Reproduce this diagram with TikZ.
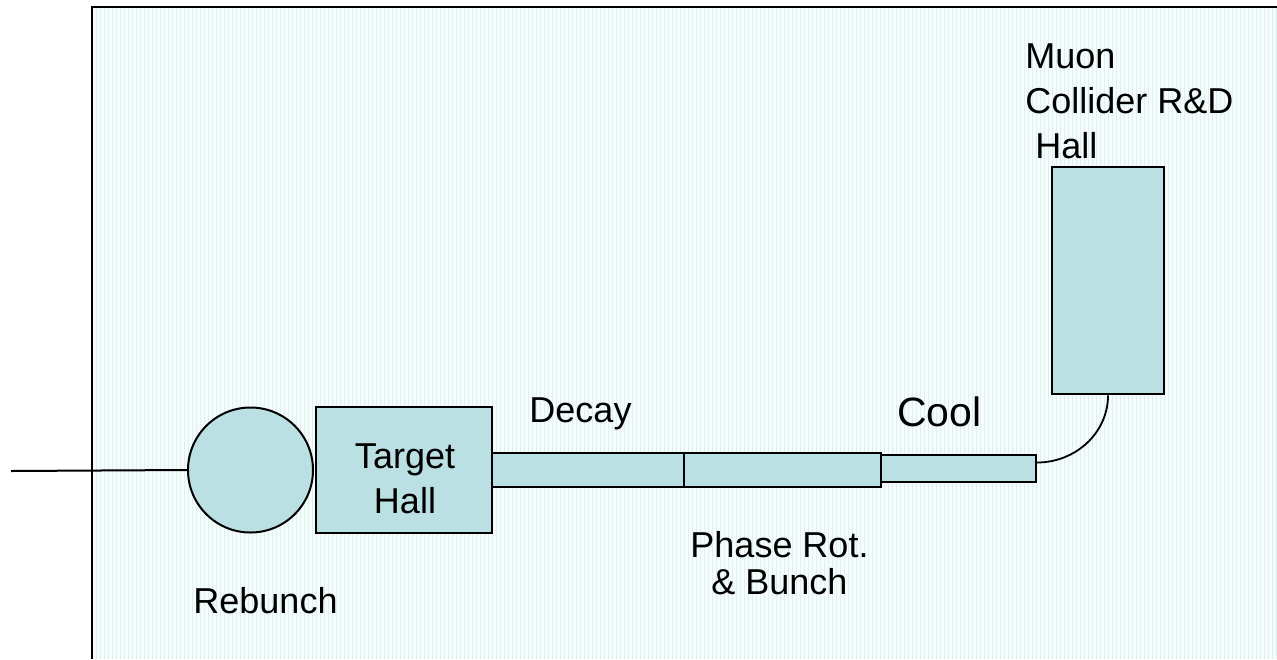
\documentclass[tikz,border=0pt]{standalone}
\usepackage{fontspec}
\setmainfont{Liberation Sans}
\definecolor{hallfill}{HTML}{BBE0E3}
\definecolor{paperbg}{HTML}{F6FCFC}
\definecolor{paperline}{HTML}{DDF0F2}
\tikzset{
  hall/.style={draw, line width=1.3pt, fill=hallfill, inner sep=0pt},
  tube/.style={hall, line width=1.1pt},
  lbl/.style={font=\fontsize{18}{22.5}\selectfont, inner sep=0pt, anchor=base},
}
\begin{document}
\begin{tikzpicture}[x=0.5pt, y=-0.5pt]
\useasboundingbox (0,0) rectangle (1277,659);

% paper
\fill[paperbg] (93,8) rectangle (1277,659);
\draw[paperline, line width=0.4pt, step=4] (93,8) grid (1277,659);
\draw[line width=1.2pt] (92,659) -- (92,7) -- (1277,7);

% line elements
\node[circle, draw, line width=1pt, fill=hallfill, minimum size=62.5pt, inner sep=0pt] (rebunch) at (250.5,470) {};
\node[hall, minimum width=88pt, minimum height=63pt] (target) at (404,470) {};
\node[tube, minimum width=96pt, minimum height=17pt] (decay) at (588,470) {};
\node[tube, minimum width=98.5pt, minimum height=17pt] (phase) at (782.5,470) {};
\node[tube, minimum width=77.5pt, minimum height=13.5pt] (cool) at (958.5,468.5) {};
\node[hall, minimum width=56pt, minimum height=113.5pt] (rdhall) at (1108,280.5) {};

% connections
\coordinate (in) at (11,471);
\draw[line width=1pt] (in) -- (rebunch.west);
\coordinate (coolend) at ([yshift=3pt]cool.east);
\draw[line width=0.9pt] (coolend) .. controls +(38,0) and +(0,38) .. (rdhall.south);

% labels
\node[lbl] (rebunchlbl) at (265.5,613) {Rebunch};
\node[lbl, align=center] (targetlbl) at (405,513) {Target\\Hall};
\node[lbl] (decaylbl) at (580.5,422) {Decay};
\node[lbl, align=center, font=\fontsize{18}{18.5}\selectfont] (phaselbl) at (779.5,594) {Phase Rot.\\\& Bunch};
\node[lbl, font=\fontsize{20.5}{24}\selectfont] (coollbl) at (939.5,426) {Cool};
\node[lbl, anchor=base west, align=left] (rdlbl) at (1025,158) {Muon\\Collider R\&D\\\hspace*{5pt}Hall};
\end{tikzpicture}
\end{document}
